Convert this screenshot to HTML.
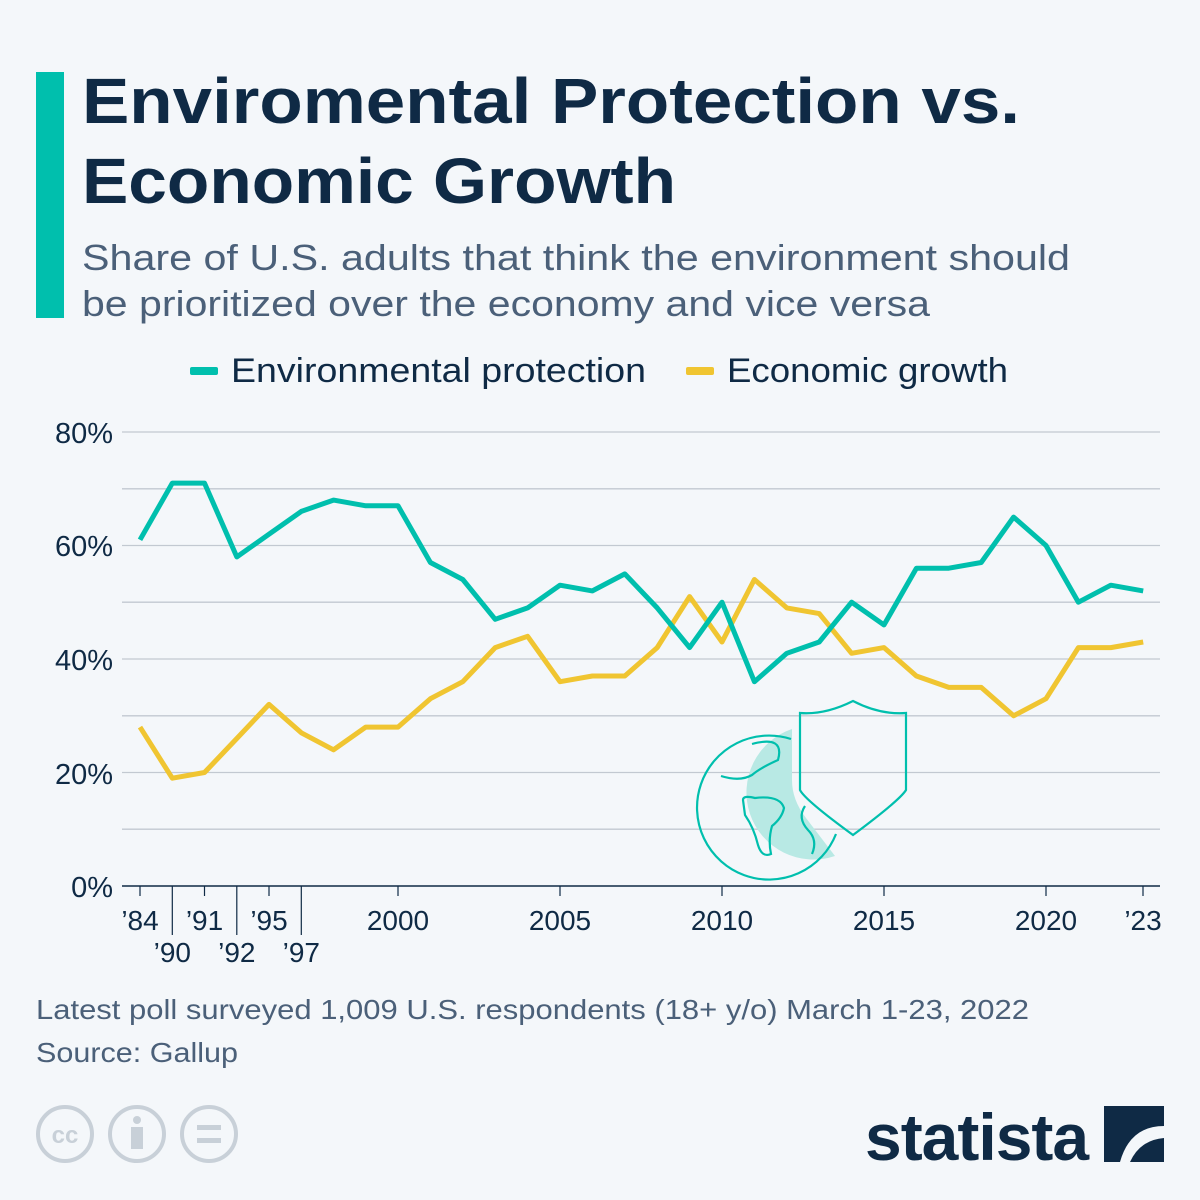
<!DOCTYPE html>
<html><head><meta charset="utf-8"><style>
body{margin:0;width:1200px;height:1200px;background:#f4f7fa;font-family:"Liberation Sans","DejaVu Sans",sans-serif;overflow:hidden}
</style></head><body>
<svg width="1200" height="1200" xmlns="http://www.w3.org/2000/svg" style="position:absolute;left:0;top:0">
<rect width="1200" height="1200" fill="#f4f7fa"/>
<rect x="36" y="72" width="28" height="246" fill="#00bfad"/>
<g font-family="Liberation Sans, DejaVu Sans, sans-serif">
<text x="82" y="123" font-size="64" font-weight="bold" fill="#0f2a45" textLength="938" lengthAdjust="spacingAndGlyphs">Enviromental Protection vs.</text>
<text x="82" y="203" font-size="64" font-weight="bold" fill="#0f2a45" textLength="594" lengthAdjust="spacingAndGlyphs">Economic Growth</text>
<text x="82" y="270" font-size="36" fill="#4b6079" textLength="988" lengthAdjust="spacingAndGlyphs">Share of U.S. adults that think the environment should</text>
<text x="82" y="316" font-size="36" fill="#4b6079" textLength="848" lengthAdjust="spacingAndGlyphs">be prioritized over the economy and vice versa</text>
<rect x="190" y="367" width="28" height="8" rx="2" fill="#00bfad"/>
<text x="231" y="382" font-size="34" fill="#0f2a45" textLength="415" lengthAdjust="spacingAndGlyphs">Environmental protection</text>
<rect x="686" y="367" width="28" height="8" rx="2" fill="#f0c531"/>
<text x="727" y="382" font-size="34" fill="#0f2a45" textLength="281" lengthAdjust="spacingAndGlyphs">Economic growth</text>
<g stroke="#c2c9d1" stroke-width="1.3">
<line x1="122" x2="1160" y1="432" y2="432"/><line x1="122" x2="1160" y1="488.8" y2="488.8"/>
<line x1="122" x2="1160" y1="545.5" y2="545.5"/><line x1="122" x2="1160" y1="602.2" y2="602.2"/>
<line x1="122" x2="1160" y1="659" y2="659"/><line x1="122" x2="1160" y1="715.8" y2="715.8"/>
<line x1="122" x2="1160" y1="772.5" y2="772.5"/><line x1="122" x2="1160" y1="829.2" y2="829.2"/>
</g>
<line x1="122" x2="1160" y1="886" y2="886" stroke="#0f2a45" stroke-width="1.5"/>
<g stroke="#0f2a45" stroke-width="1.2">
<line x1="140" x2="140" y1="886" y2="896"/><line x1="172.3" x2="172.3" y1="886" y2="935"/>
<line x1="204.5" x2="204.5" y1="886" y2="896"/><line x1="236.8" x2="236.8" y1="886" y2="935"/>
<line x1="269" x2="269" y1="886" y2="896"/><line x1="301.3" x2="301.3" y1="886" y2="935"/>
<line x1="398" x2="398" y1="886" y2="896"/><line x1="560" x2="560" y1="886" y2="896"/>
<line x1="722" x2="722" y1="886" y2="896"/><line x1="884" x2="884" y1="886" y2="896"/>
<line x1="1046" x2="1046" y1="886" y2="896"/><line x1="1143" x2="1143" y1="886" y2="896"/>
</g>
<g font-size="29" fill="#0f2a45" text-anchor="end">
<text x="113" y="443">80%</text><text x="113" y="556">60%</text><text x="113" y="670">40%</text>
<text x="113" y="784">20%</text><text x="113" y="897">0%</text>
</g>
<g font-size="28" fill="#0f2a45" text-anchor="middle">
<text x="140" y="930">’84</text><text x="204.5" y="930">’91</text><text x="269" y="930">’95</text>
<text x="172.3" y="962">’90</text><text x="236.8" y="962">’92</text><text x="301.3" y="962">’97</text>
<text x="398" y="930">2000</text><text x="560" y="930">2005</text><text x="722" y="930">2010</text>
<text x="884" y="930">2015</text><text x="1046" y="930">2020</text><text x="1143" y="930">’23</text>
</g>
<!-- icon -->
<path d="M792,729 A66,66 0 1 0 835,856 L806,818 Q792,800 792,780 Z" fill="#b8e9e4"/>
<g fill="none" stroke="#00bfad" stroke-width="2.2">
<path d="M791,739 A72,72 0 1 0 836,834"/>
<path d="M752,744 Q785,735 778,760 Q760,768 752,775 Q740,782 721,776"/>
<path d="M743,800 Q743,795 755,798 Q780,795 784,808 Q782,818 772,826 Q768,840 771,854 Q762,858 758,845 Q754,828 745,815 Z"/>
<path d="M805,806 Q797,818 808,830 Q818,840 812,854"/>
<path d="M800,713 Q825,715 853,701 Q880,715 906,713 L906,790 Q900,800 853,835 Q805,800 800,790 Z"/>
</g>
<polyline fill="none" stroke="#f0c531" stroke-width="5" stroke-linejoin="round" points="140,727.1 172.3,778.2 204.5,772.5 236.8,738.5 269,704.4 301.3,732.8 333.5,749.8 365.8,727.1 398,727.1 430.4,698.7 462.8,681.7 495.2,647.6 527.6,636.3 560,681.7 592.4,676 624.8,676 657.2,647.6 689.6,596.6 722,642 754.4,579.5 786.8,607.9 819.2,613.6 851.6,653.3 884,647.6 916.4,676 948.8,687.4 981.2,687.4 1013.6,715.8 1046,698.7 1078.4,647.6 1110.8,647.6 1143.2,642"/>
<polyline fill="none" stroke="#00bfad" stroke-width="5" stroke-linejoin="round" points="140,539.8 172.3,483.1 204.5,483.1 236.8,556.9 269,534.2 301.3,511.4 333.5,500.1 365.8,505.8 398,505.8 430.4,562.5 462.8,579.5 495.2,619.3 527.6,607.9 560,585.2 592.4,590.9 624.8,573.9 657.2,607.9 689.6,647.6 722,602.2 754.4,681.7 786.8,653.3 819.2,642 851.6,602.2 884,624.9 916.4,568.2 948.8,568.2 981.2,562.5 1013.6,517.1 1046,545.5 1078.4,602.2 1110.8,585.2 1143.2,590.9"/>
<text x="36" y="1019" font-size="28" fill="#4b6079" textLength="993" lengthAdjust="spacingAndGlyphs">Latest poll surveyed 1,009 U.S. respondents (18+ y/o) March 1-23, 2022</text>
<text x="36" y="1062" font-size="28" fill="#4b6079" textLength="202" lengthAdjust="spacingAndGlyphs">Source: Gallup</text>
<g fill="none" stroke="#c8d0d8" stroke-width="4">
<circle cx="65" cy="1134" r="27"/><circle cx="137" cy="1134" r="27"/><circle cx="209" cy="1134" r="27"/>
</g>
<text x="65" y="1143" font-size="24" font-weight="bold" fill="#c8d0d8" text-anchor="middle">cc</text>
<circle cx="137" cy="1120" r="4" fill="#c8d0d8"/><rect x="131" y="1127" width="12" height="22" fill="#c8d0d8"/>
<rect x="197" y="1125" width="24" height="5" fill="#c8d0d8"/><rect x="197" y="1138" width="24" height="5" fill="#c8d0d8"/>
<text x="865" y="1160" font-size="66" font-weight="bold" fill="#0f2a45" letter-spacing="-1">statista</text>
<path d="M1104,1106 L1164,1106 L1164,1126 Q1130,1126 1120,1162 L1104,1162 Z" fill="#0f2a45"/>
<path d="M1130,1162 Q1140,1140 1164,1138 L1164,1162 Z" fill="#0f2a45"/>
</g>
</svg>
</body></html>
